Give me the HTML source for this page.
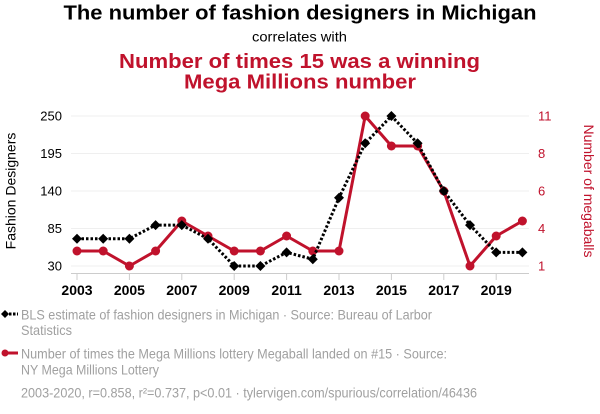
<!DOCTYPE html>
<html><head><meta charset="utf-8"><style>
html,body{margin:0;padding:0;background:#fff;}
svg{display:block;font-family:"Liberation Sans",Arial,sans-serif;}
</style></head><body>
<svg width="600" height="414" viewBox="0 0 600 414" xmlns="http://www.w3.org/2000/svg">
<rect width="600" height="414" fill="#fff"/>
<!-- titles -->
<text x="300" y="19.5" text-anchor="middle" font-size="20" font-weight="bold" fill="#000" textLength="473" lengthAdjust="spacingAndGlyphs">The number of fashion designers in Michigan</text>
<text x="299.5" y="41.7" text-anchor="middle" font-size="14" fill="#000" textLength="95" lengthAdjust="spacingAndGlyphs">correlates with</text>
<text x="299.5" y="68" text-anchor="middle" font-size="20" font-weight="bold" fill="#c0122c" textLength="361" lengthAdjust="spacingAndGlyphs">Number of times 15 was a winning</text>
<text x="300" y="88.5" text-anchor="middle" font-size="20" font-weight="bold" fill="#c0122c" textLength="232" lengthAdjust="spacingAndGlyphs">Mega Millions number</text>
<!-- gridlines -->
<g stroke="#efefef" stroke-width="1">
<line x1="71" y1="116" x2="529" y2="116"/>
<line x1="71" y1="153.5" x2="529" y2="153.5"/>
<line x1="71" y1="191" x2="529" y2="191"/>
<line x1="71" y1="228.5" x2="529" y2="228.5"/>
<line x1="71" y1="266" x2="529" y2="266"/>
</g>
<!-- x axis -->
<line x1="71" y1="273.5" x2="529" y2="273.5" stroke="#ccc" stroke-width="1"/>
<g stroke="#ccc" stroke-width="1">
<line x1="77" y1="273.5" x2="77" y2="280"/>
<line x1="129.4" y1="273.5" x2="129.4" y2="280"/>
<line x1="181.8" y1="273.5" x2="181.8" y2="280"/>
<line x1="234.2" y1="273.5" x2="234.2" y2="280"/>
<line x1="286.6" y1="273.5" x2="286.6" y2="280"/>
<line x1="339" y1="273.5" x2="339" y2="280"/>
<line x1="391.4" y1="273.5" x2="391.4" y2="280"/>
<line x1="443.8" y1="273.5" x2="443.8" y2="280"/>
<line x1="496.2" y1="273.5" x2="496.2" y2="280"/>
</g>
<g font-size="14" font-weight="bold" fill="#000" text-anchor="middle">
<text x="77" y="295">2003</text>
<text x="129.4" y="295">2005</text>
<text x="181.8" y="295">2007</text>
<text x="234.2" y="295">2009</text>
<text x="286.6" y="295">2011</text>
<text x="339" y="295">2013</text>
<text x="391.4" y="295">2015</text>
<text x="443.8" y="295">2017</text>
<text x="496.2" y="295">2019</text>
</g>
<!-- left y ticks -->
<g font-size="13" fill="#000" text-anchor="end">
<text x="62" y="120.5">250</text>
<text x="62" y="158">195</text>
<text x="62" y="195.5">140</text>
<text x="62" y="233">85</text>
<text x="62" y="270.5">30</text>
</g>
<!-- right y ticks -->
<g font-size="13" fill="#c0122c" text-anchor="start">
<text x="538" y="120.5">11</text>
<text x="538" y="158">8</text>
<text x="538" y="195.5">6</text>
<text x="538" y="233">4</text>
<text x="538" y="270.5">1</text>
</g>
<!-- axis labels -->
<text transform="translate(15.5,191) rotate(-90)" text-anchor="middle" font-size="14" fill="#000">Fashion Designers</text>
<text transform="translate(584,191) rotate(90)" text-anchor="middle" font-size="14" fill="#c0122c">Number of megaballs</text>
<!-- red series -->
<polyline fill="none" stroke="#c0122c" stroke-width="3" stroke-linejoin="round" points="77,251 103.2,251 129.4,266 155.6,251 181.8,221 208,236 234.2,251 260.4,251 286.6,236 312.8,251 339,251 365.2,116 391.4,146 417.6,146 443.8,191 470,266 496.2,236 522.4,221"/>
<g fill="#c0122c">
<circle cx="77" cy="251" r="4.5"/><circle cx="103.2" cy="251" r="4.5"/><circle cx="129.4" cy="266" r="4.5"/><circle cx="155.6" cy="251" r="4.5"/><circle cx="181.8" cy="221" r="4.5"/><circle cx="208" cy="236" r="4.5"/><circle cx="234.2" cy="251" r="4.5"/><circle cx="260.4" cy="251" r="4.5"/><circle cx="286.6" cy="236" r="4.5"/><circle cx="312.8" cy="251" r="4.5"/><circle cx="339" cy="251" r="4.5"/><circle cx="365.2" cy="116" r="4.5"/><circle cx="391.4" cy="146" r="4.5"/><circle cx="417.6" cy="146" r="4.5"/><circle cx="443.8" cy="191" r="4.5"/><circle cx="470" cy="266" r="4.5"/><circle cx="496.2" cy="236" r="4.5"/><circle cx="522.4" cy="221" r="4.5"/>
</g>
<!-- black series -->
<polyline fill="none" stroke="#000" stroke-width="3" stroke-dasharray="2.5,2" points="77,238.7 103.2,238.7 129.4,238.7 155.6,225.1 181.8,225.1 208,238.7 234.2,266 260.4,266 286.6,252.4 312.8,259.2 339,197.8 365.2,143.3 391.4,116 417.6,143.3 443.8,191 470,225.1 496.2,252.4 522.4,252.4"/>
<g fill="#000">
<path d="M77,233.7 l5,5 l-5,5 l-5,-5z"/>
<path d="M103.2,233.7 l5,5 l-5,5 l-5,-5z"/>
<path d="M129.4,233.7 l5,5 l-5,5 l-5,-5z"/>
<path d="M155.6,220.1 l5,5 l-5,5 l-5,-5z"/>
<path d="M181.8,220.1 l5,5 l-5,5 l-5,-5z"/>
<path d="M208,233.7 l5,5 l-5,5 l-5,-5z"/>
<path d="M234.2,261 l5,5 l-5,5 l-5,-5z"/>
<path d="M260.4,261 l5,5 l-5,5 l-5,-5z"/>
<path d="M286.6,247.4 l5,5 l-5,5 l-5,-5z"/>
<path d="M312.8,254.2 l5,5 l-5,5 l-5,-5z"/>
<path d="M339,192.8 l5,5 l-5,5 l-5,-5z"/>
<path d="M365.2,138.3 l5,5 l-5,5 l-5,-5z"/>
<path d="M391.4,111 l5,5 l-5,5 l-5,-5z"/>
<path d="M417.6,138.3 l5,5 l-5,5 l-5,-5z"/>
<path d="M443.8,186 l5,5 l-5,5 l-5,-5z"/>
<path d="M470,220.1 l5,5 l-5,5 l-5,-5z"/>
<path d="M496.2,247.4 l5,5 l-5,5 l-5,-5z"/>
<path d="M522.4,247.4 l5,5 l-5,5 l-5,-5z"/>
</g>
<!-- legend -->
<line x1="5" y1="314" x2="18" y2="314" stroke="#000" stroke-width="3" stroke-dasharray="2.5,1.5"/>
<path d="M5,310 l4,4 l-4,4 l-4,-4z" fill="#000"/>
<line x1="5" y1="353" x2="18" y2="353" stroke="#c0122c" stroke-width="3"/>
<circle cx="5" cy="353" r="3.5" fill="#c0122c"/>
<g font-size="14" fill="#a0a0a0">
<text x="21" y="319.3" textLength="411" lengthAdjust="spacingAndGlyphs">BLS estimate of fashion designers in Michigan · Source: Bureau of Larbor</text>
<text x="21" y="335" textLength="51" lengthAdjust="spacingAndGlyphs">Statistics</text>
<text x="21" y="358.3" textLength="426" lengthAdjust="spacingAndGlyphs">Number of times the Mega Millions lottery Megaball landed on #15 · Source:</text>
<text x="21" y="374.7" textLength="138" lengthAdjust="spacingAndGlyphs">NY Mega Millions Lottery</text>
<text x="21" y="397.3" textLength="456" lengthAdjust="spacingAndGlyphs">2003-2020, r=0.858, r²=0.737, p&lt;0.01 · tylervigen.com/spurious/correlation/46436</text>
</g>
</svg>
</body></html>
